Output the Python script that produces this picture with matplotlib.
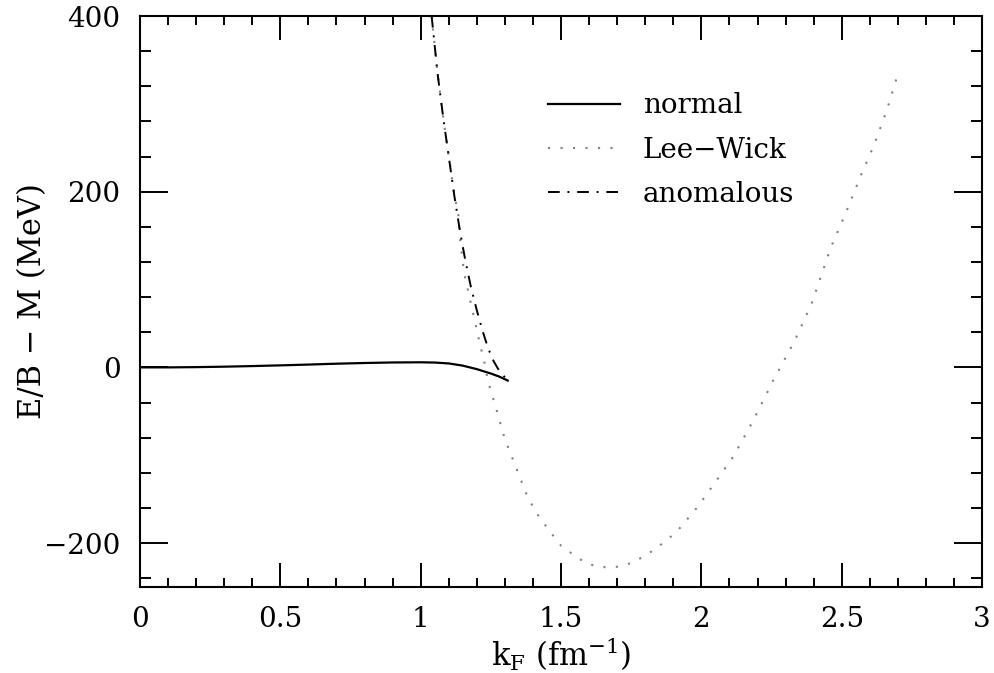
import matplotlib
matplotlib.use("Agg")
import matplotlib.pyplot as plt
from matplotlib.ticker import MultipleLocator

# ---- data ----
normal_k = [0.0, 0.1, 0.2, 0.3, 0.4, 0.5, 0.6, 0.7, 0.8, 0.9, 1.0, 1.05, 1.1, 1.15, 1.2, 1.25, 1.28, 1.31]
normal_e = [0.0, 0.0, 0.3, 0.8, 1.5, 2.3, 3.2, 4.2, 5.0, 5.6, 5.8, 5.5, 4.5, 2.0, -2.0, -7.0, -10.5, -15.0]

anom_k = [1.039, 1.06, 1.08, 1.10, 1.12, 1.14, 1.16, 1.18, 1.20, 1.22, 1.24, 1.26, 1.28, 1.31]
anom_e = [400, 335, 285, 240, 195, 155, 120, 90, 65, 42, 22, 7, -4, -15]

lw_k = [1.039, 1.06, 1.08, 1.10, 1.12, 1.134, 1.142, 1.155, 1.178, 1.194, 1.21, 1.226, 1.24,
        1.27, 1.30, 1.34, 1.38, 1.413, 1.456, 1.50, 1.53, 1.565, 1.60, 1.636, 1.68, 1.717,
        1.756, 1.79, 1.82, 1.855, 1.883, 1.915, 1.986, 2.049, 2.113, 2.184, 2.254, 2.332,
        2.392, 2.463, 2.516, 2.569, 2.615, 2.661, 2.70]
lw_e = [400, 335, 285, 240, 197, 174, 141, 107, 74, 51, 28, 7, -16,
        -48, -82, -114, -147, -166, -185, -203, -210, -218, -224, -227, -228, -226,
        -222, -216, -210, -202, -195, -186, -159, -131, -102, -61, -16, 30,
        72, 138, 177, 219, 253, 293, 334]

plt.rcParams["font.family"] = ["DejaVu Serif"]
plt.rcParams["mathtext.fontset"] = "dejavuserif"

fig = plt.figure(figsize=(9.95, 6.73), dpi=100)
ax = fig.add_axes([0.1407, 0.1278, 0.8463, 0.8484])

ax.plot(normal_k, normal_e, color="black", lw=1.6, label="normal")
ax.plot(lw_k, lw_e, color="#808080", lw=1.5, linestyle=(0, (1, 5)), label="Lee\u2212Wick")
ax.plot(anom_k, anom_e, color="black", lw=1.4, linestyle=(0, (6, 4, 1, 4)), label="anomalous")

ax.set_xlim(0, 3)
ax.set_ylim(-250, 400)
ax.xaxis.set_major_locator(MultipleLocator(0.5))
ax.xaxis.set_minor_locator(MultipleLocator(0.1))
ax.yaxis.set_major_locator(MultipleLocator(200))
ax.yaxis.set_minor_locator(MultipleLocator(40))
ax.set_xticks([0, 0.5, 1, 1.5, 2, 2.5, 3])
ax.set_xticklabels(["0", "0.5", "1", "1.5", "2", "2.5", "3"])

ax.tick_params(which="both", direction="in", top=True, right=True, width=1.4,
               labelsize=20, pad=14)
ax.tick_params(axis="x", which="major", length=17)
ax.tick_params(axis="x", which="minor", length=6.5)
ax.tick_params(axis="y", which="major", length=20)
ax.tick_params(axis="y", which="minor", length=8)
for s in ax.spines.values():
    s.set_linewidth(1.5)

ax.set_xlabel(r"k$_{\rm F}$ (fm$^{-1}$)", fontsize=22, va="center")
ax.xaxis.set_label_coords(0.5, -0.118)
ax.set_ylabel("E/B \u2212 M (MeV)", fontsize=22, va="center")
ax.yaxis.set_label_coords(-0.128, 0.5)

ax.legend(loc="upper left", bbox_to_anchor=(0.455, 0.91), frameon=False, fontsize=20,
          handlelength=2.6, handletextpad=0.8, labelspacing=0.62)

fig.savefig("out.png", dpi=100)
